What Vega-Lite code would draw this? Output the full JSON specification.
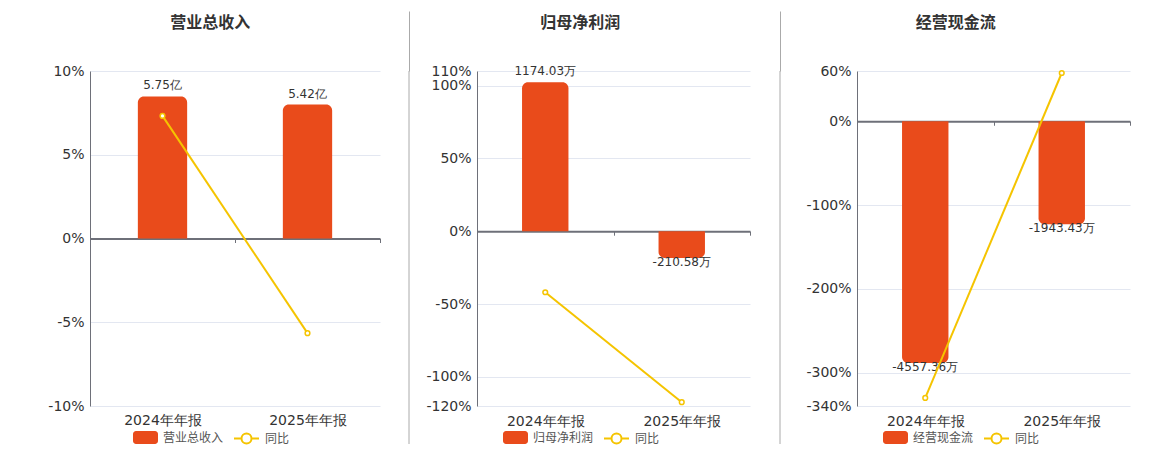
{
  "$schema": "https://vega.github.io/schema/vega-lite/v6.json",
  "padding": {"left": 40, "top": 10, "right": 0, "bottom": 0},
  "spacing": 0,
  "config": {
    "view": {"stroke": null},
    "font": "DejaVu Sans",
    "title": {"font": "Noto Sans CJK SC", "fontSize": 16, "fontWeight": "bold", "color": "#333333", "anchor": "middle", "frame": "bounds", "offset": 35, "dy": 2},
    "legend": {"title": null, "labelFont": "Noto Sans CJK SC", "labelFontSize": 12, "labelColor": "#555555", "labelOffset": 5, "symbolSize": 625}
  },
  "resolve": {
    "scale": {"x": "independent", "y": "independent", "fill": "independent", "stroke": "independent"},
    "legend": {"fill": "independent", "stroke": "independent"}
  },
  "hconcat": [
    {
      "width": 290,
      "height": 335,
      "title": {"text": "营业总收入"},
      "data": {"values": [
        {"period": "2024年年报", "amount": 5.75, "label": "5.75亿", "yoy": 7.32},
        {"period": "2025年年报", "amount": 5.42, "label": "5.42亿", "yoy": -5.65}
      ]},
      "encoding": {
        "x": {
          "field": "period", "type": "nominal", "sort": null,
          "scale": {"paddingInner": 0, "paddingOuter": 0},
          "axis": {"title": null, "orient": "bottom", "offset": -167.5, "domainColor": "#6E7079", "domainWidth": 2, "tickBand": "extent", "tickColor": "#6E7079", "tickSize": 4, "labelPadding": 171, "labelAngle": 0, "labelFontSize": 14, "labelColor": "#333333", "grid": false}
        }
      },
      "layer": [
        {
          "encoding": {"y": {"field": "amount", "type": "quantitative", "scale": {"domain": [-6.78, 6.78], "nice": false, "zero": false}, "axis": null}},
          "layer": [
            {
              "transform": [{"filter": "datum.amount >= 0"}],
              "mark": {"type": "bar", "width": {"band": 0.34}, "cornerRadiusTopLeft": 6, "cornerRadiusTopRight": 6},
              "encoding": {
                "y2": {"datum": 0},
                "fill": {"datum": "营业总收入", "scale": {"range": ["#E94B1B"]}, "legend": {"orient": "none", "legendX": 43, "legendY": 354, "symbolStrokeWidth": 0, "symbolType": "M-0.76,-0.52H0.76A0.24,0.24 0 0 1 1,-0.28V0.28A0.24,0.24 0 0 1 0.76,0.52H-0.76A0.24,0.24 0 0 1 -1,0.28V-0.28A0.24,0.24 0 0 1 -0.76,-0.52Z"}}
              }
            },
            {
              "transform": [{"filter": "datum.amount >= 0"}],
              "mark": {"type": "text", "baseline": "middle", "dy": -11, "fontSize": 12, "color": "#333333"},
              "encoding": {"text": {"field": "label"}}
            }
          ]
        },
        {
          "encoding": {"y": {"field": "yoy", "type": "quantitative", "scale": {"domain": [-10, 10], "nice": false, "zero": false},
            "axis": {"orient": "left", "values": [10, 5, 0, -5, -10], "labelExpr": "datum.value + '%'", "title": null, "grid": true, "gridColor": "#E3E7F1", "domainColor": "#6E7079", "ticks": false, "labelPadding": 6, "labelFontSize": 14, "labelColor": "#333333", "labelOverlap": false, "minExtent": 50}}},
          "layer": [
            {
              "mark": {"type": "line", "strokeWidth": 2},
              "encoding": {"stroke": {"datum": "同比", "scale": {"range": ["#F5C400"]}, "legend": {"orient": "none", "legendX": 143, "legendY": 354, "symbolStrokeWidth": 2, "symbolFillColor": "white", "symbolType": "M-1,0H-0.4M0.4,0H1M0.4,0A0.4,0.4 0 1 1 -0.4,0A0.4,0.4 0 1 1 0.4,0Z"}}}
            },
            {"mark": {"type": "circle", "fill": "white", "stroke": "#F5C400", "strokeWidth": 1.5, "size": 22, "opacity": 1}}
          ]
        }
      ],
      "resolve": {"scale": {"y": "independent"}}
    },
    {
      "width": 28,
      "height": 373,
      "data": {"values": [{}]},
      "mark": {"type": "rule", "color": "#AAAAAA", "strokeWidth": 1},
      "encoding": {"x": {"datum": 1, "type": "quantitative", "scale": {"domain": [0, 1]},
        "axis": {"orient": "top", "values": [1], "tickSize": 60, "tickColor": "#AAAAAA", "tickWidth": 1, "domain": false, "labels": false, "grid": false, "title": null}}}
    },
    {
      "width": 273,
      "height": 335,
      "title": {"text": "归母净利润"},
      "data": {"values": [
        {"period": "2024年年报", "amount": 1174.03, "label": "1174.03万", "yoy": -41.9},
        {"period": "2025年年报", "amount": -210.58, "label": "-210.58万", "yoy": -117.4}
      ]},
      "encoding": {
        "x": {
          "field": "period", "type": "nominal", "sort": null,
          "scale": {"paddingInner": 0, "paddingOuter": 0},
          "axis": {"title": null, "orient": "bottom", "offset": -174.8, "domainColor": "#6E7079", "domainWidth": 2, "tickBand": "extent", "tickColor": "#6E7079", "tickSize": 4, "labelPadding": 179, "labelAngle": 0, "labelFontSize": 14, "labelColor": "#333333", "grid": false}
        }
      },
      "layer": [
        {
          "encoding": {"y": {"field": "amount", "type": "quantitative", "scale": {"domain": [-1377, 1262], "nice": false, "zero": false}, "axis": null}},
          "layer": [
            {
              "transform": [{"filter": "datum.amount >= 0"}],
              "mark": {"type": "bar", "width": {"band": 0.34}, "cornerRadiusTopLeft": 6, "cornerRadiusTopRight": 6},
              "encoding": {
                "y2": {"datum": 0},
                "fill": {"datum": "归母净利润", "scale": {"range": ["#E94B1B"]}, "legend": {"orient": "none", "legendX": 26, "legendY": 354, "symbolStrokeWidth": 0, "symbolType": "M-0.76,-0.52H0.76A0.24,0.24 0 0 1 1,-0.28V0.28A0.24,0.24 0 0 1 0.76,0.52H-0.76A0.24,0.24 0 0 1 -1,0.28V-0.28A0.24,0.24 0 0 1 -0.76,-0.52Z"}}
              }
            },
            {
              "transform": [{"filter": "datum.amount < 0"}],
              "mark": {"type": "bar", "width": {"band": 0.34}, "cornerRadiusBottomLeft": 6, "cornerRadiusBottomRight": 6},
              "encoding": {
                "y2": {"datum": 0},
                "fill": {"datum": "归母净利润", "scale": {"range": ["#E94B1B"]}, "legend": {"orient": "none", "legendX": 26, "legendY": 354, "symbolStrokeWidth": 0, "symbolType": "M-0.76,-0.52H0.76A0.24,0.24 0 0 1 1,-0.28V0.28A0.24,0.24 0 0 1 0.76,0.52H-0.76A0.24,0.24 0 0 1 -1,0.28V-0.28A0.24,0.24 0 0 1 -0.76,-0.52Z"}}
              }
            },
            {
              "transform": [{"filter": "datum.amount >= 0"}],
              "mark": {"type": "text", "baseline": "middle", "dy": -11, "fontSize": 12, "color": "#333333"},
              "encoding": {"text": {"field": "label"}}
            },
            {
              "transform": [{"filter": "datum.amount < 0"}],
              "mark": {"type": "text", "baseline": "middle", "dy": 4, "fontSize": 12, "color": "#333333"},
              "encoding": {"text": {"field": "label"}}
            }
          ]
        },
        {
          "encoding": {"y": {"field": "yoy", "type": "quantitative", "scale": {"domain": [-120, 110], "nice": false, "zero": false},
            "axis": {"orient": "left", "values": [110, 100, 50, 0, -50, -100, -120], "labelExpr": "datum.value + '%'", "title": null, "grid": true, "gridColor": "#E3E7F1", "domainColor": "#6E7079", "ticks": false, "labelPadding": 6, "labelFontSize": 14, "labelColor": "#333333", "labelOverlap": false, "minExtent": 67}}},
          "layer": [
            {
              "mark": {"type": "line", "strokeWidth": 2},
              "encoding": {"stroke": {"datum": "同比", "scale": {"range": ["#F5C400"]}, "legend": {"orient": "none", "legendX": 126, "legendY": 354, "symbolStrokeWidth": 2, "symbolFillColor": "white", "symbolType": "M-1,0H-0.4M0.4,0H1M0.4,0A0.4,0.4 0 1 1 -0.4,0A0.4,0.4 0 1 1 0.4,0Z"}}}
            },
            {"mark": {"type": "circle", "fill": "white", "stroke": "#F5C400", "strokeWidth": 1.5, "size": 22, "opacity": 1}}
          ]
        }
      ],
      "resolve": {"scale": {"y": "independent"}}
    },
    {
      "width": 29,
      "height": 373,
      "data": {"values": [{}]},
      "mark": {"type": "rule", "color": "#AAAAAA", "strokeWidth": 1},
      "encoding": {"x": {"datum": 1, "type": "quantitative", "scale": {"domain": [0, 1]},
        "axis": {"orient": "top", "values": [1], "tickSize": 60, "tickColor": "#AAAAAA", "tickWidth": 1, "domain": false, "labels": false, "grid": false, "title": null}}}
    },
    {
      "width": 273,
      "height": 335,
      "title": {"text": "经营现金流"},
      "data": {"values": [
        {"period": "2024年年报", "amount": -4557.36, "label": "-4557.36万", "yoy": -330.4},
        {"period": "2025年年报", "amount": -1943.43, "label": "-1943.43万", "yoy": 57.6}
      ]},
      "encoding": {
        "x": {
          "field": "period", "type": "nominal", "sort": null,
          "scale": {"paddingInner": 0, "paddingOuter": 0},
          "axis": {"title": null, "orient": "bottom", "offset": -284.75, "domainColor": "#6E7079", "domainWidth": 2, "tickBand": "extent", "tickColor": "#6E7079", "tickSize": 4, "labelPadding": 289, "labelAngle": 0, "labelFontSize": 14, "labelColor": "#333333", "grid": false}
        }
      },
      "layer": [
        {
          "encoding": {"y": {"field": "amount", "type": "quantitative", "scale": {"domain": [-5368, 947], "nice": false, "zero": false}, "axis": null}},
          "layer": [
            {
              "transform": [{"filter": "datum.amount < 0"}],
              "mark": {"type": "bar", "width": {"band": 0.34}, "cornerRadiusBottomLeft": 6, "cornerRadiusBottomRight": 6},
              "encoding": {
                "y2": {"datum": 0},
                "fill": {"datum": "经营现金流", "scale": {"range": ["#E94B1B"]}, "legend": {"orient": "none", "legendX": 26, "legendY": 354, "symbolStrokeWidth": 0, "symbolType": "M-0.76,-0.52H0.76A0.24,0.24 0 0 1 1,-0.28V0.28A0.24,0.24 0 0 1 0.76,0.52H-0.76A0.24,0.24 0 0 1 -1,0.28V-0.28A0.24,0.24 0 0 1 -0.76,-0.52Z"}}
              }
            },
            {
              "transform": [{"filter": "datum.amount < 0"}],
              "mark": {"type": "text", "baseline": "middle", "dy": 4, "fontSize": 12, "color": "#333333"},
              "encoding": {"text": {"field": "label"}}
            }
          ]
        },
        {
          "encoding": {"y": {"field": "yoy", "type": "quantitative", "scale": {"domain": [-340, 60], "nice": false, "zero": false},
            "axis": {"orient": "left", "values": [60, 0, -100, -200, -300, -340], "labelExpr": "datum.value + '%'", "title": null, "grid": true, "gridColor": "#E3E7F1", "domainColor": "#6E7079", "ticks": false, "labelPadding": 6, "labelFontSize": 14, "labelColor": "#333333", "labelOverlap": false, "minExtent": 76}}},
          "layer": [
            {
              "mark": {"type": "line", "strokeWidth": 2},
              "encoding": {"stroke": {"datum": "同比", "scale": {"range": ["#F5C400"]}, "legend": {"orient": "none", "legendX": 126, "legendY": 354, "symbolStrokeWidth": 2, "symbolFillColor": "white", "symbolType": "M-1,0H-0.4M0.4,0H1M0.4,0A0.4,0.4 0 1 1 -0.4,0A0.4,0.4 0 1 1 0.4,0Z"}}}
            },
            {"mark": {"type": "circle", "fill": "white", "stroke": "#F5C400", "strokeWidth": 1.5, "size": 22, "opacity": 1}}
          ]
        }
      ],
      "resolve": {"scale": {"y": "independent"}}
    }
  ]
}
